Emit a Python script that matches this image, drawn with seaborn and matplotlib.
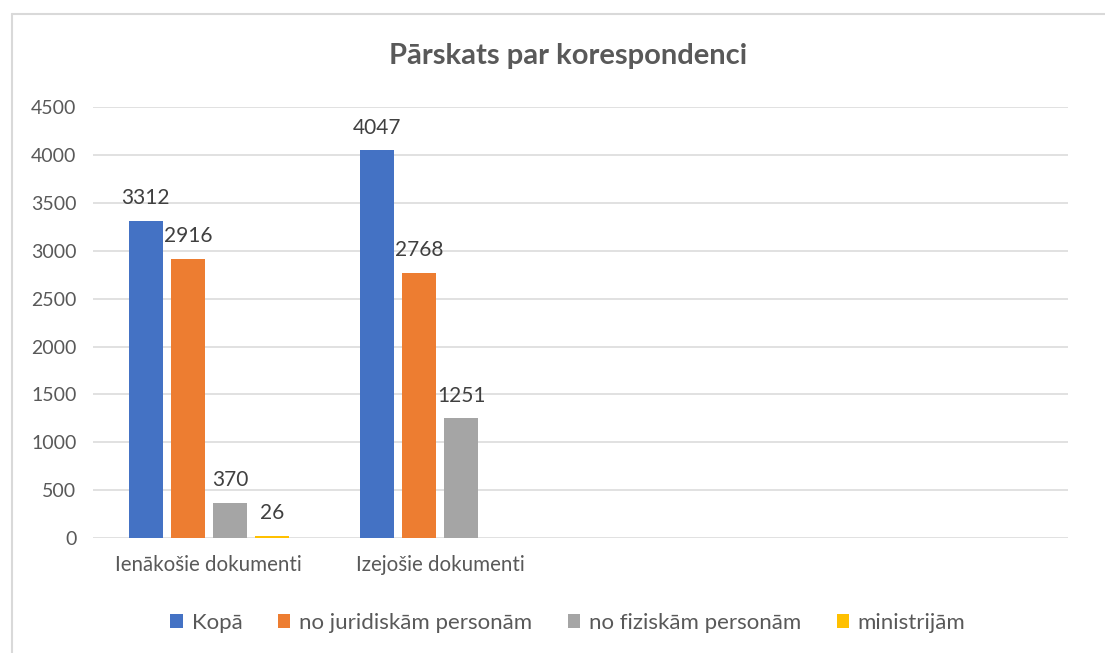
import numpy as np
import pandas as pd
import matplotlib
matplotlib.use("Agg")
import matplotlib.pyplot as plt
import seaborn as sns
from matplotlib.patches import Patch
from matplotlib.lines import Line2D

# data
categories = ["Ienākošie dokumenti", "Izejošie dokumenti"]
series = ["Kopā", "no juridiskām personām", "no fiziskām personām", "ministrijām"]
kopa = [3312, 4047]
juridiskam = [2916, 2768]
fiziskam = [370, 1251]
ministrijam = [26, np.nan]
colors = ["#4472C4", "#ED7D31", "#A5A5A5", "#FFC000"]
yticks = [0, 500, 1000, 1500, 2000, 2500, 3000, 3500, 4000, 4500]

rows = []
for name, vals in zip(series, [kopa, juridiskam, fiziskam, ministrijam]):
    for cat, v in zip(categories, vals):
        rows.append({"kategorija": cat, "sērija": name, "vērtība": v})
df = pd.DataFrame(rows).dropna()

sns.set_theme(style="white")
plt.rcParams["font.family"] = ["Lato", "DejaVu Sans"]
TXT = "#595959"

fig = plt.figure(figsize=(11.05, 6.53), dpi=100)
ax = fig.add_axes([0.0842, 0.176, 0.8823, 0.66])

sns.barplot(data=df, x="kategorija", y="vērtība", hue="sērija",
            order=categories, hue_order=series, palette=colors,
            width=0.727, gap=0.19, saturation=1, legend=False,
            edgecolor="none", linewidth=0, ax=ax)

# value labels
for cont in ax.containers:
    labels = [f"{int(b.get_height())}" if b.get_height() > 0 else "" for b in cont]
    ax.bar_label(cont, labels=labels, padding=9, fontsize=15, color="#404040")

ax.set_xlim(-0.5, 3.71)
ax.set_ylim(0, 4500)
ax.set_yticks(yticks)
ax.yaxis.grid(True, color="#d9d9d9", linewidth=1.1)
ax.set_axisbelow(True)
for s in ax.spines.values():
    s.set_visible(False)
ax.tick_params(axis="y", length=0, labelsize=14, colors=TXT, pad=12)
ax.tick_params(axis="x", length=0, labelsize=14.8, colors=TXT, pad=12)
ax.set_xlabel("")
ax.set_ylabel("")

fig.text(0.514, 0.914, "Pārskats par korespondenci", ha="center", va="center",
         fontsize=21, fontweight="bold", color=TXT)

handles = [Patch(facecolor=c, edgecolor="none") for c in colors]
fig.legend(handles, series, loc="center", bbox_to_anchor=(0.514, 0.046), ncol=4,
           frameon=False, fontsize=16, labelcolor=TXT, handlelength=0.55,
           handleheight=0.55, handletextpad=0.4, columnspacing=1.6)

# chart area border (top and left visible)
fig.add_artist(Line2D([0.0105, 1.0], [0.978, 0.978], color="#d9d9d9", linewidth=1.5))
fig.add_artist(Line2D([0.0105, 0.0105], [0.0, 0.978], color="#d9d9d9", linewidth=1.5))

fig.savefig("out.png", dpi=100)
